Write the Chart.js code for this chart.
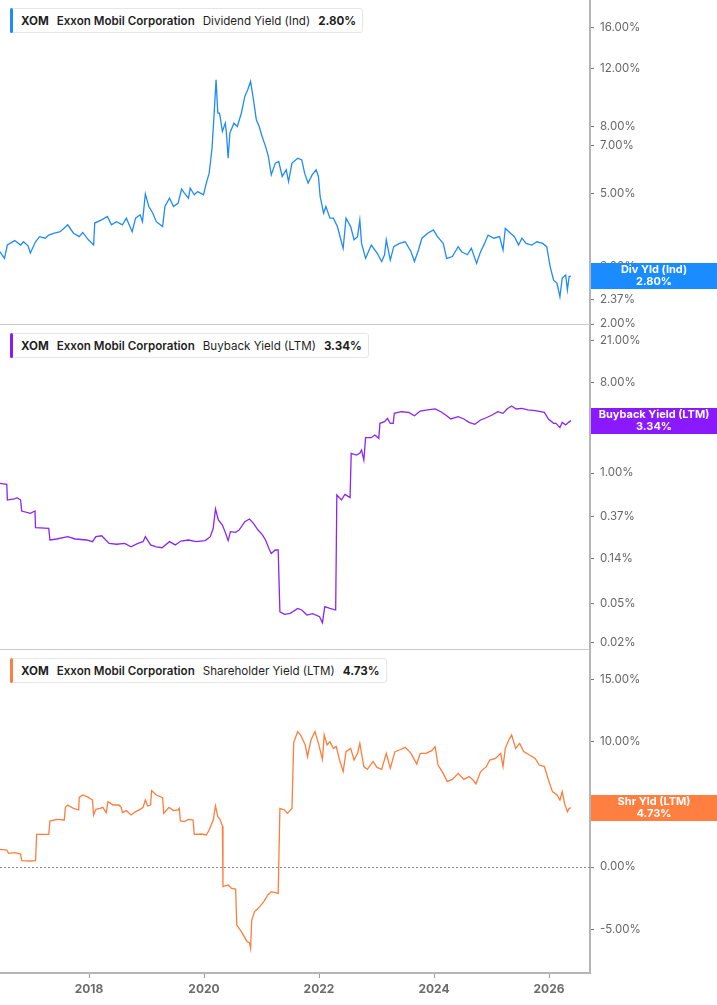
<!DOCTYPE html>
<html lang="en">
<head>
  <meta charset="UTF-8" />
  <title>XOM Yields</title>
  <script src="https://cdn.jsdelivr.net/npm/chart.js"></script>
  <style>
    body {
      margin: 0;
      background: #fff;
      font-family: Inter, "Noto Sans", sans-serif;
    }
    #wrap {
      position: relative;
      width: 717px;
      height: 1005px;
      overflow: hidden;
    }
    canvas {
      position: absolute;
      left: 0;
    }
    .legend {
      position: absolute;
      left: 10px;
      height: 23px;
      display: flex;
      align-items: center;
      gap: 8px;
      padding: 0 6px 0 10px;
      background: #fff;
      border: 1px solid #e6e6e6;
      border-radius: 3px;
      font-size: 11.6px;
      color: #1f1f1f;
      white-space: nowrap;
    }
    .legend::before {
      content: "";
      position: absolute;
      left: -1px;
      top: -1px;
      bottom: -1px;
      width: 3px;
      border-radius: 2px;
      background: var(--c);
    }
    .legend b { font-weight: 700; }
    .legend .co { font-weight: 600; }
  </style>
</head>
<body>
  <div id="wrap">
    <canvas id="c1" width="717" height="332" style="top:0"></canvas>
    <canvas id="c2" width="717" height="332" style="top:325px"></canvas>
    <canvas id="c3" width="717" height="355" style="top:650px"></canvas>

    <div class="legend" style="top:8px; --c:#1a8cff">
      <b>XOM</b><span class="co">Exxon Mobil Corporation</span><span>Dividend Yield (Ind)</span><b>2.80%</b>
    </div>
    <div class="legend" style="top:333px; --c:#8a19ff">
      <b>XOM</b><span class="co">Exxon Mobil Corporation</span><span>Buyback Yield (LTM)</span><b>3.34%</b>
    </div>
    <div class="legend" style="top:658px; --c:#ff7f41">
      <b>XOM</b><span class="co">Exxon Mobil Corporation</span><span>Shareholder Yield (LTM)</span><b>4.73%</b>
    </div>
  </div>

  <script>
    // x range (decimal years) and tick labels
    const xMin = 2016.452;
    const xMax = 2026.713;
    const yearTicks = [2018, 2020, 2022, 2024, 2026];

    const divTicks = [2, 2.37, 3, 5, 7, 8, 12, 16];
    const bbTicks = [0.02, 0.05, 0.14, 0.37, 1, 3, 8, 21];
    const shTicks = [-5, 0, 5, 10, 15];

    // Dividend Yield (Ind), %
    const divYears = [2016.45,2016.53,2016.58,2016.71,2016.81,2016.86,2016.94,2016.98,2017.07,2017.14,
      2017.24,2017.30,2017.40,2017.50,2017.63,2017.73,2017.83,2017.89,2017.99,2018.08,
      2018.10,2018.22,2018.32,2018.39,2018.48,2018.58,2018.65,2018.75,2018.81,2018.89,
      2018.93,2018.98,2019.04,2019.11,2019.17,2019.28,2019.32,2019.40,2019.47,2019.55,
      2019.61,2019.66,2019.73,2019.76,2019.83,2019.89,2019.99,2020.04,2020.09,2020.14,
      2020.18,2020.21,2020.24,2020.27,2020.32,2020.37,2020.39,2020.42,2020.45,2020.52,
      2020.58,2020.65,2020.71,2020.76,2020.81,2020.86,2020.91,2020.96,2021.01,2021.07,
      2021.12,2021.17,2021.24,2021.30,2021.36,2021.43,2021.47,2021.53,2021.63,2021.70,
      2021.75,2021.81,2021.88,2021.95,2021.99,2022.02,2022.08,2022.12,2022.19,2022.25,
      2022.32,2022.38,2022.42,2022.47,2022.55,2022.61,2022.67,2022.71,2022.74,2022.81,
      2022.91,2023.01,2023.09,2023.14,2023.17,2023.24,2023.30,2023.40,2023.50,2023.60,
      2023.66,2023.73,2023.79,2023.89,2023.99,2024.06,2024.16,2024.22,2024.32,2024.42,
      2024.48,2024.58,2024.65,2024.74,2024.81,2024.88,2024.94,2025.04,2025.14,2025.20,
      2025.24,2025.33,2025.40,2025.47,2025.53,2025.60,2025.70,2025.79,2025.89,2025.96,
      2026.02,2026.08,2026.14,2026.19,2026.23,2026.29,2026.32,2026.35,2026.38];
    const divValues = [3.32,3.17,3.48,3.59,3.48,3.56,3.46,3.29,3.56,3.69,
      3.65,3.73,3.78,3.82,4.01,3.78,3.69,3.80,3.61,3.48,
      4.06,4.15,4.25,4.01,4.10,4.01,4.20,3.82,4.20,4.30,
      4.10,4.98,4.56,4.35,4.10,3.96,4.56,4.83,4.56,4.67,
      5.15,5.01,4.83,5.19,4.95,5.06,4.95,5.37,5.76,6.87,
      8.98,11.09,8.78,8.78,7.72,8.18,7.63,6.40,7.63,8.18,
      7.99,8.78,9.87,10.34,10.96,9.64,8.38,7.99,7.45,6.95,
      6.47,5.69,6.18,6.25,5.63,5.90,5.43,6.18,6.40,6.32,
      5.76,5.37,5.69,5.90,5.63,4.89,4.35,4.56,4.20,4.20,
      3.96,3.61,3.40,4.20,3.96,3.61,3.69,4.15,3.52,3.17,
      3.48,3.29,3.10,3.25,3.61,3.13,3.44,3.52,3.56,3.32,
      3.10,3.36,3.65,3.78,3.87,3.69,3.52,3.17,3.21,3.44,
      3.32,3.25,3.40,3.06,3.32,3.52,3.73,3.65,3.69,3.36,
      3.91,3.78,3.69,3.48,3.65,3.52,3.48,3.56,3.52,3.44,
      2.99,2.72,2.66,2.42,2.76,2.82,2.54,2.79,2.80];

    // Buyback Yield (LTM), %
    const bbYears = [2016.45,2016.57,2016.58,2016.70,2016.75,2016.81,2016.83,2016.98,2017.06,2017.07,
      2017.30,2017.32,2017.44,2017.63,2017.76,2017.96,2018.06,2018.12,2018.22,2018.35,
      2018.48,2018.62,2018.73,2018.85,2018.94,2018.98,2019.07,2019.17,2019.27,2019.40,
      2019.50,2019.60,2019.73,2019.86,2020.02,2020.11,2020.16,2020.20,2020.25,2020.32,
      2020.37,2020.42,2020.46,2020.55,2020.61,2020.71,2020.79,2020.86,2020.94,2021.01,
      2021.07,2021.14,2021.17,2021.24,2021.29,2021.32,2021.40,2021.50,2021.63,2021.70,
      2021.79,2021.89,2022.01,2022.06,2022.10,2022.19,2022.29,2022.31,2022.39,2022.45,
      2022.54,2022.56,2022.65,2022.71,2022.74,2022.78,2022.81,2022.91,2022.97,2023.04,
      2023.06,2023.14,2023.19,2023.24,2023.29,2023.31,2023.43,2023.56,2023.66,2023.76,
      2023.89,2024.02,2024.12,2024.22,2024.29,2024.42,2024.52,2024.61,2024.71,2024.81,
      2024.91,2025.01,2025.11,2025.20,2025.27,2025.35,2025.43,2025.53,2025.63,2025.76,
      2025.92,2025.99,2026.08,2026.12,2026.19,2026.23,2026.29,2026.34,2026.38];
    const bbValues = [0.788,0.770,0.537,0.550,0.567,0.537,0.417,0.395,0.417,0.284,
      0.280,0.214,0.219,0.231,0.219,0.214,0.206,0.231,0.236,0.198,
      0.194,0.198,0.183,0.198,0.206,0.231,0.191,0.183,0.179,0.206,
      0.191,0.209,0.214,0.206,0.211,0.231,0.280,0.437,0.339,0.302,
      0.255,0.211,0.259,0.255,0.269,0.326,0.347,0.314,0.269,0.244,
      0.214,0.170,0.157,0.170,0.170,0.0410,0.0386,0.0395,0.0443,0.0427,
      0.0380,0.0392,0.0366,0.0319,0.0461,0.0443,0.0427,0.603,0.537,0.612,
      0.567,1.573,1.514,1.573,1.698,1.349,2.256,2.256,2.399,2.222,
      3.14,3.26,3.52,3.14,3.14,3.95,4.10,4.04,3.74,4.17,
      4.27,4.37,4.10,3.74,3.47,3.66,3.47,3.21,3.07,3.39,
      3.57,3.80,4.10,3.95,4.37,4.68,4.37,4.43,4.27,4.20,
      4.04,3.47,3.14,3.14,2.84,3.21,3.02,3.21,3.34];

    // Shareholder Yield (LTM), %
    const shYears = [2016.45,2016.57,2016.60,2016.71,2016.81,2016.83,2016.98,2017.07,2017.09,2017.30,
      2017.32,2017.44,2017.57,2017.59,2017.63,2017.73,2017.82,2017.83,2017.89,2017.99,
      2018.06,2018.08,2018.12,2018.19,2018.24,2018.30,2018.33,2018.42,2018.52,2018.56,
      2018.58,2018.65,2018.73,2018.81,2018.89,2018.94,2018.98,2019.02,2019.07,2019.09,
      2019.17,2019.28,2019.30,2019.39,2019.47,2019.55,2019.57,2019.59,2019.66,2019.73,
      2019.81,2019.83,2019.96,2020.04,2020.09,2020.16,2020.20,2020.24,2020.27,2020.32,
      2020.33,2020.42,2020.48,2020.55,2020.57,2020.65,2020.75,2020.79,2020.81,2020.83,
      2020.88,2020.97,2021.04,2021.11,2021.17,2021.29,2021.32,2021.40,2021.45,2021.53,
      2021.56,2021.63,2021.68,2021.76,2021.80,2021.86,2021.93,2021.99,2022.06,2022.09,
      2022.14,2022.19,2022.25,2022.30,2022.35,2022.42,2022.47,2022.55,2022.61,2022.67,
      2022.71,2022.78,2022.84,2022.94,2023.01,2023.09,2023.17,2023.24,2023.32,2023.40,
      2023.50,2023.60,2023.70,2023.76,2023.86,2023.96,2024.02,2024.07,2024.16,2024.23,
      2024.32,2024.42,2024.52,2024.61,2024.68,2024.73,2024.81,2024.91,2024.97,2025.07,
      2025.16,2025.20,2025.24,2025.30,2025.35,2025.42,2025.49,2025.56,2025.66,2025.76,
      2025.83,2025.92,2025.99,2026.06,2026.14,2026.19,2026.23,2026.27,2026.32,2026.35,
      2026.38];
    const shValues = [1.41,1.36,1.09,1.15,1.04,0.51,0.48,0.51,2.61,2.61,
      3.68,3.81,3.76,4.77,4.96,4.69,4.56,5.57,5.76,5.57,
      5.36,4.16,4.61,4.69,4.77,4.35,5.23,4.96,4.96,4.77,
      4.35,4.51,4.16,4.43,4.61,4.77,5.36,4.88,4.96,6.11,
      5.76,5.55,4.29,4.77,4.51,4.56,4.69,3.68,3.63,3.81,
      3.76,2.61,2.64,2.56,2.96,3.76,4.88,4.03,3.89,3.28,
      -1.57,-1.44,-1.71,-1.76,-4.64,-5.17,-5.97,-6.05,-6.51,-4.24,
      -3.57,-3.17,-2.77,-2.24,-1.97,-2.11,4.69,4.56,4.29,4.69,
      9.95,10.83,10.56,9.76,8.83,10.16,10.83,9.89,8.61,10.56,
      9.76,10.03,9.49,9.63,8.69,7.63,9.23,9.49,8.56,9.09,
      9.89,8.03,7.81,8.43,7.97,7.81,9.09,7.89,9.23,9.36,
      9.57,9.09,8.24,9.09,9.09,9.31,9.63,8.16,7.49,6.83,
      7.01,7.49,7.01,7.23,6.96,6.64,7.63,8.03,8.56,8.69,
      9.09,8.03,9.49,10.16,10.56,9.49,9.89,9.23,8.96,8.69,
      8.16,8.03,6.96,6.03,5.76,5.36,6.03,5.09,4.43,4.69,
      4.73];

    Chart.defaults.font.family = 'Inter, "Noto Sans", sans-serif';

    const toPoints = (xs, ys) => xs.map((x, i) => ({ x: x, y: ys[i] }));

    // separator line, zero line and the value tag on the right axis
    const panelDecor = {
      id: 'panelDecor',
      beforeDatasetsDraw(chart, args, opts) {
        if (!opts.zeroLine) return;
        const { ctx, chartArea, scales } = chart;
        const y = Math.round(scales.y.getPixelForValue(0)) + 0.5;
        ctx.save();
        ctx.strokeStyle = '#8a8a8a';
        ctx.lineWidth = 1;
        ctx.setLineDash([2, 2]);
        ctx.beginPath();
        ctx.moveTo(chartArea.left, y);
        ctx.lineTo(chartArea.right, y);
        ctx.stroke();
        ctx.restore();
      },
      afterDraw(chart, args, opts) {
        const { ctx, chartArea, scales } = chart;
        ctx.save();
        if (opts.separator) {
          ctx.strokeStyle = '#c9c9c9';
          ctx.lineWidth = 1;
          ctx.beginPath();
          ctx.moveTo(0, chartArea.bottom + 0.5);
          ctx.lineTo(chartArea.right, chartArea.bottom + 0.5);
          ctx.stroke();
        }
        const data = chart.data.datasets[0].data;
        const last = data[data.length - 1].y;
        const y = scales.y.getPixelForValue(last);
        const x0 = chartArea.right + 1;
        ctx.fillStyle = opts.color;
        ctx.fillRect(x0, Math.round(y - 13), chart.width - x0, 26);
        ctx.fillStyle = '#fff';
        ctx.font = 'bold 11px Inter, "Noto Sans", sans-serif';
        ctx.textAlign = 'center';
        ctx.textBaseline = 'middle';
        const cx = (x0 + chart.width) / 2;
        ctx.fillText(opts.tag, cx, y - 6);
        ctx.fillText(last.toFixed(2) + '%', cx, y + 6);
        ctx.restore();
      }
    };

    function makePanel(id, cfg) {
      return new Chart(document.getElementById(id), {
        type: 'line',
        data: {
          datasets: [{
            data: toPoints(cfg.xs, cfg.ys),
            borderColor: cfg.color,
            borderWidth: 1.3,
            pointRadius: 0,
            tension: 0,
            fill: false
          }]
        },
        options: {
          responsive: false,
          animation: false,
          devicePixelRatio: 1,
          // the canvases overlap a little so the lowest tick label is not cut
          layout: { padding: { top: 0, left: 0, right: 0, bottom: cfg.showX ? 0 : 8 } },
          plugins: {
            legend: { display: false },
            tooltip: { enabled: false },
            panelDecor: { color: cfg.tagColor, tag: cfg.tag, separator: !cfg.showX, zeroLine: cfg.zeroLine }
          },
          scales: {
            x: {
              type: 'linear',
              min: xMin,
              max: xMax,
              display: cfg.showX,
              afterBuildTicks: ax => { ax.ticks = yearTicks.map(v => ({ value: v })); },
              afterFit: ax => {
                ax.height = cfg.showX ? 32 : 0;
                ax.paddingLeft = 0;
                ax.paddingRight = 0;
              },
              ticks: {
                callback: v => String(v),
                color: '#6b6b6b',
                font: { size: 12, weight: 'bold' },
                padding: 4,
                maxRotation: 0,
                autoSkip: false
              },
              grid: { drawOnChartArea: false, tickLength: 5, color: '#9a9a9a' },
              border: { color: '#b5b5b5', width: 2 }
            },
            y: {
              type: cfg.yType,
              position: 'right',
              min: cfg.yMin,
              max: cfg.yMax,
              afterBuildTicks: ax => { ax.ticks = cfg.ticks.map(v => ({ value: v })); },
              afterFit: ax => { ax.width = 127; ax.paddingTop = 0; ax.paddingBottom = 0; },
              ticks: {
                callback: v => Number(v).toFixed(2) + '%',
                color: '#666',
                font: { size: 11.5 },
                padding: 6,
                autoSkip: false
              },
              grid: { drawOnChartArea: false, tickLength: 4, color: '#777' },
              border: { color: '#b5b5b5', width: 2 }
            }
          }
        },
        plugins: [panelDecor]
      });
    }

    makePanel('c1', {
      xs: divYears, ys: divValues, color: '#1f8bf7', tagColor: '#1a8cff', tag: 'Div Yld (Ind)',
      yType: 'logarithmic', yMin: 2, yMax: 19.4, ticks: divTicks, showX: false
    });
    makePanel('c2', {
      xs: bbYears, ys: bbValues, color: '#8b24f7', tagColor: '#8a19ff', tag: 'Buyback Yield (LTM)',
      yType: 'logarithmic', yMin: 0.0174, yMax: 30.2, ticks: bbTicks, showX: false
    });
    makePanel('c3', {
      xs: shYears, ys: shValues, color: '#ff7d3c', tagColor: '#ff7f41', tag: 'Shr Yld (LTM)',
      yType: 'linear', yMin: -8.48, yMax: 17.36, ticks: shTicks, showX: true, zeroLine: true
    });
  </script>
</body>
</html>
